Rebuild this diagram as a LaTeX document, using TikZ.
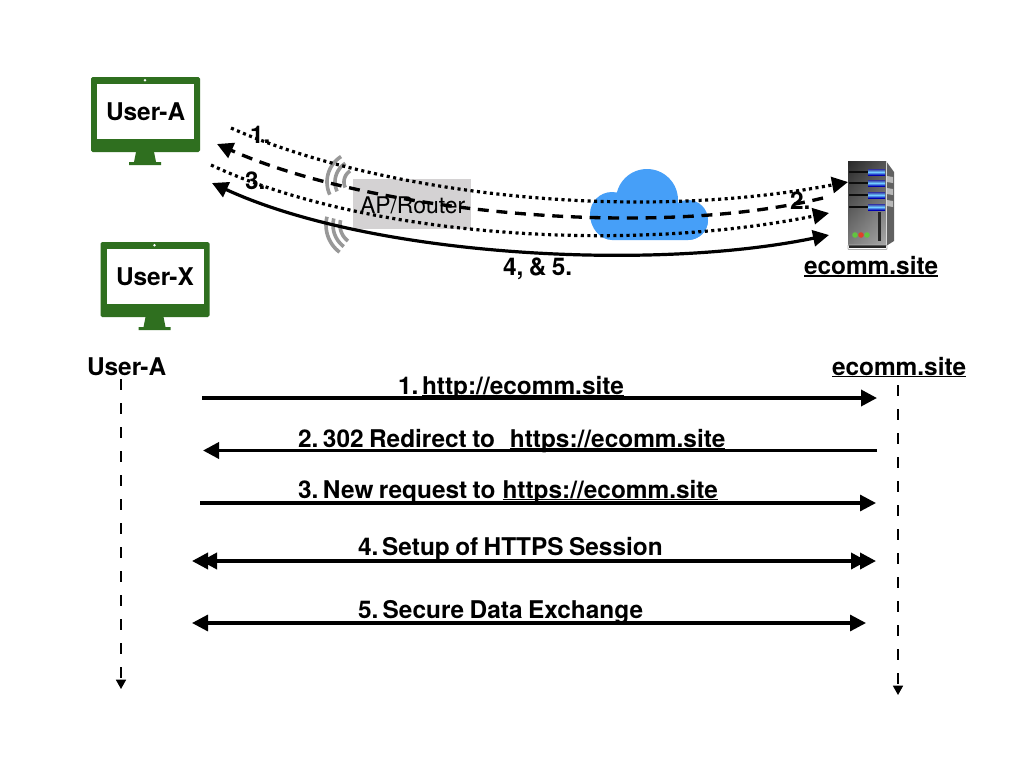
\documentclass[tikz,border=0pt]{standalone}
\usepackage{fontspec}
\setmainfont[WordSpace=0.8]{TeX Gyre Heros}
\usetikzlibrary{arrows.meta}
\definecolor{mongreen}{HTML}{2F6F1F}
\definecolor{cloudblue}{HTML}{469FF8}
\definecolor{apgray}{HTML}{D4D2D3}
\definecolor{wifigray}{HTML}{989898}
\definecolor{ledgreen}{HTML}{62C440}
\definecolor{ledred}{HTML}{E0402A}
\newcommand{\linkul}[1]{\setbox0\hbox{#1}\rlap{\rule[-1.7pt]{\wd0}{1.2pt}}\box0 }
\tikzset{
  lbl/.style={anchor=base west,inner sep=0pt,outer sep=0pt,font=\fontsize{18.3}{20}\selectfont\bfseries},
  aplbl/.style={anchor=base west,inner sep=0pt,outer sep=0pt,font=\fontsize{17.2}{20}\selectfont},
  monbody/.style={draw=none,fill=mongreen,rounded corners=1.2pt,minimum width=81.75pt,minimum height=56.25pt,inner sep=0pt},
  monscreen/.style={draw=none,fill=white,minimum width=72.75pt,minimum height=41.25pt,inner sep=0pt},
  tipbig/.style={-{Triangle[length=12pt,width=12pt]}},
  tipcurve/.style={-{Triangle[length=12pt,width=12pt]}},
  msg/.style={line width=2.7pt,line cap=butt},
  msgthin/.style={line width=2.4pt,line cap=butt},
  curvedot/.style={line width=2.4pt,dash pattern=on 2.3pt off 2.6pt,tipcurve},
  curvedash/.style={line width=2.5pt,dash pattern=on 8.2pt off 5.8pt,tipcurve},
  curvesolid/.style={line width=2.4pt,{Triangle[length=12pt,width=12pt]}-{Triangle[length=12pt,width=12pt]}},
  life/.style={line width=1.2pt,dash pattern=on 8pt off 10pt,-{Triangle[length=7pt,width=7.5pt]}},
  wifi/.style={draw=wifigray,line width=2.7pt,smooth},
}
\begin{document}
\begin{tikzpicture}[x=0.75pt,y=-0.75pt]
\useasboundingbox (0,0) rectangle (1024,768);
\fill[white] (0,0) rectangle (1024,768);

% monitors
\node[monbody] (monA) at (145.5,114.5) {};
\node[monscreen] (scrA) at (145.5,111.5) {};
\fill[mongreen] (136,152) -- (154,152) -- (156,162) -- (161,162) -- (161,165) -- (129,165) -- (129,162) -- (134,162) -- cycle;
\fill[white] (145,80.3) circle (1pt);
\node[lbl] (txtA) at (106,120) {User-A};

\node[monbody] (monX) at (155,279.5) {};
\node[monscreen] (scrX) at (155,276.5) {};
\fill[mongreen] (145.5,317) -- (163.5,317) -- (165.5,327) -- (170.5,327) -- (170.5,330) -- (138.5,330) -- (138.5,327) -- (143.5,327) -- cycle;
\fill[white] (154.5,245.3) circle (1pt);
\node[lbl] (txtX) at (116,285) {User-X};

% AP box and waves
\node[draw=none,fill=apgray,minimum width=88.5pt,minimum height=37.5pt,inner sep=0pt] (ap) at (412,204) {};
\node[aplbl] (aptxt) at (360,213) {AP/Router};
\draw[wifi] plot[domain=122:205,samples=16] ({357+30*cos(\x)},{182-30*sin(\x)});
\draw[wifi] plot[domain=122:205,samples=16] ({357+22*cos(\x)},{182-22*sin(\x)});
\draw[wifi] plot[domain=122:205,samples=16] ({357+13*cos(\x)},{182-13*sin(\x)});
\draw[wifi] plot[domain=166:233,samples=16] ({360+34*cos(\x)},{225-34*sin(\x)});
\draw[wifi] plot[domain=166:233,samples=16] ({360+27*cos(\x)},{225-27*sin(\x)});
\draw[wifi] plot[domain=166:233,samples=16] ({360+20*cos(\x)},{225-20*sin(\x)});

% cloud
\fill[cloudblue] (612,214) circle (22) (647,200) circle (31) (688,220) circle (20);
\fill[cloudblue] (590,214) -- (708,220) .. controls (708,232) and (698,240) .. (688,240) -- (612,240) .. controls (600,240) and (590,228) .. (590,214) -- cycle;

% server
\path[left color=black!82,right color=black!48] (848,161) rectangle (886,245);
\path[top color=black!85,bottom color=black!20,opacity=.5] (848,161) rectangle (886,245);
\fill[black!62] (886,161) -- (894,172) -- (894,241) -- (886,246) -- cycle;
\foreach \yy in {176,188,200}{\fill[black!28] (887,\yy) -- (893,\yy+1) -- (893,\yy+7) -- (887,\yy+6) -- cycle;}
\draw[black!15,line width=.6pt] (886,161) -- (886,246);
\foreach \yy in {172,183,195,207}{
  \fill[black!95] (849,\yy-1) rectangle (869,\yy+1);
  \shade[top color=blue!55!black!80,bottom color=blue!70!black,middle color=blue!35!cyan!55!white] (868,\yy-3) rectangle (885,\yy+3);
}
\fill[black!85] (878,212) rectangle (881,241);
\fill[ledgreen] (855,235) circle (2.8);
\fill[ledred] (861,235) circle (2.8);
\fill[ledgreen] (867,235) circle (2.8);
\fill[black!85] (849,245) rectangle (886,248);
\draw[black!30,line width=.7pt,rounded corners=.6pt] (848,245) rectangle (887,249.5);
\node[lbl] (srvtxt) at (804,274.5) {\linkul{ecomm.site}};

% curved connectors
\coordinate (c1a) at (231,128); \coordinate (c1b) at (848,182);
\coordinate (c2a) at (823,198); \coordinate (c2b) at (217,144);
\coordinate (c3a) at (211,165); \coordinate (c3b) at (829,213);
\coordinate (c4a) at (829,235); \coordinate (c4b) at (212,183);
\draw[curvedot] (c1a) .. controls (370,190) and (620,225) .. (c1b);
\draw[curvedash] (c2a) .. controls (650,240) and (370,212) .. (c2b);
\draw[curvedot] (c3a) .. controls (360,235) and (620,255) .. (c3b);
\draw[curvesolid] (c4a) .. controls (650,272) and (370,256) .. (c4b);

\node[lbl] (n1) at (250,143) {1.};
\node[lbl] (n2) at (790,209) {2.};
\node[lbl] (n3) at (245,189) {3.};
\node[lbl] (n4) at (503,275) {4, \& 5.};

% sequence
\node[lbl] (seqA) at (87,375) {User-A};
\node[lbl] (seqE) at (832,375) {\linkul{ecomm.site}};
\coordinate (lAa) at (121,379); \coordinate (lAb) at (121,689);
\coordinate (lEa) at (898,385); \coordinate (lEb) at (898,695);
\draw[life] (lAa) -- (lAb);
\draw[life] (lEa) -- (lEb);

\coordinate (m1a) at (202,398); \coordinate (m1b) at (877,398);
\coordinate (m2a) at (877,450.5); \coordinate (m2b) at (203,450.5);
\coordinate (m3a) at (200,503); \coordinate (m3b) at (876,503);
\coordinate (m4a) at (192,561); \coordinate (m4b) at (876,561);
\coordinate (m5a) at (192,623); \coordinate (m5b) at (866,623);
\draw[msg,tipbig] (m1a) -- (m1b);
\draw[msg,tipbig] (m2a) -- (m2b);
\draw[msgthin,tipbig] (m3a) -- (m3b);
\draw[msg,{Triangle[length=12pt,width=12pt]Triangle[length=12pt,width=12pt,sep=-5.25pt]}-{Triangle[length=12pt,width=12pt,sep=-5.25pt]Triangle[length=12pt,width=12pt]}] (m4a) -- (m4b);
\draw[msgthin,{Triangle[length=12pt,width=12pt]}-{Triangle[length=12pt,width=12pt]}] (m5a) -- (m5b);

\node[lbl] (t1) at (398,394) {1.\kern-1.3pt\ \linkul{http://ecomm.site}};
\node[lbl] (t2) at (298,447) {2.\kern-.6pt\ 302 Redirect to\ \ \kern3pt\linkul{https://ecomm.site}};
\node[lbl] (t3) at (298,498) {3.\kern-.6pt\ New request to \kern1.2pt\linkul{https://ecomm.site}};
\node[lbl] (t4) at (358,555) {4.\kern-1.2pt\ Setup of HTTPS Session};
\node[lbl] (t5) at (358,618) {5.\kern-.8pt\ Secure Data Exchange};
\end{tikzpicture}
\end{document}
